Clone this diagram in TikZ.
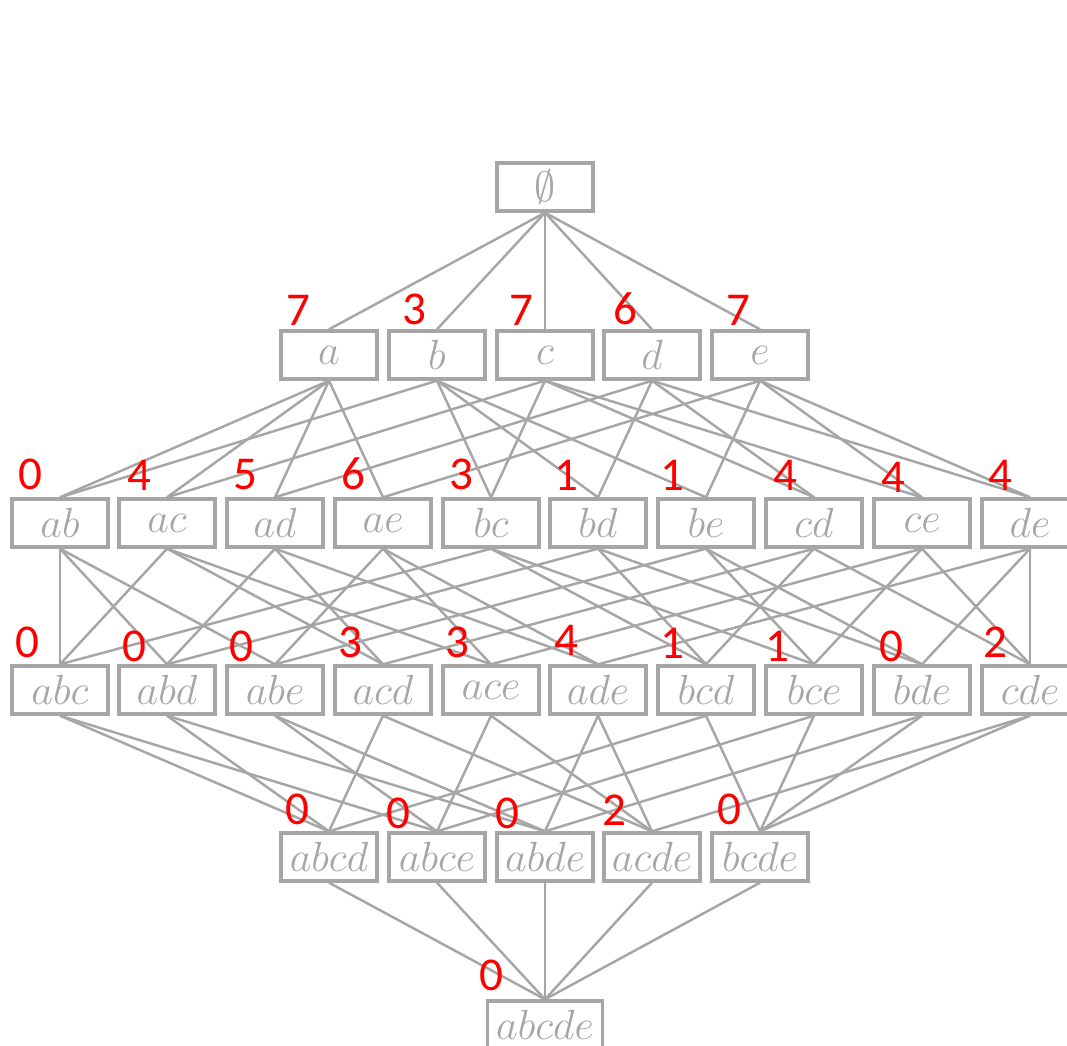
\documentclass[tikz,border=0pt]{standalone}
\usepackage{amsmath,amssymb}
\usepackage{fontspec}
\usepackage{xcolor}
\usepackage{tikz}
\newfontfamily\chiffre{Carlito}
\definecolor{gris}{RGB}{166,166,166}
\definecolor{rouge}{RGB}{255,0,0}

\begin{document}
\begin{tikzpicture}[x=0.01cm, y=-0.01cm,
  bx/.style={rectangle, draw=gris, line width=0.95pt, text=gris, minimum width=0.96cm,
             minimum height=0.48cm, inner sep=0pt, font=\fontsize{12.2}{14}\selectfont},
  ln/.style={draw=gris, line width=0.7pt},
  num/.style={anchor=south, inner sep=0pt, text=rouge, font=\chiffre\fontsize{13.4}{15}\selectfont}]

\useasboundingbox (0,0) rectangle (1067,1046);
\clip (0,0) rectangle (1067,1046);

% niveau 0 et 1
\node[bx] (vide) at (545,187) {$\emptyset$};
\node[bx] (a) at (329,355) {$a$};
\node[bx] (b) at (437,355) {$b$};
\node[bx] (c) at (545,355) {$c$};
\node[bx] (d) at (652,355) {$d$};
\node[bx] (e) at (760,355) {$e$};

% niveau 2
\node[bx] (ab) at (60,523) {$ab$};
\node[bx] (ac) at (167,523) {$ac$};
\node[bx] (ad) at (275,523) {$ad$};
\node[bx] (ae) at (383,523) {$ae$};
\node[bx] (bc) at (491,523) {$bc$};
\node[bx] (bd) at (598,523) {$bd$};
\node[bx] (be) at (706,523) {$be$};
\node[bx] (cd) at (814,523) {$cd$};
\node[bx] (ce) at (922,523) {$ce$};
\node[bx] (de) at (1030,523) {$de$};

% niveau 3
\node[bx] (abc) at (60,690) {$abc$};
\node[bx] (abd) at (167,690) {$abd$};
\node[bx] (abe) at (275,690) {$abe$};
\node[bx] (acd) at (383,690) {$acd$};
\node[bx] (ace) at (491,690) {$ace$};
\node[bx] (ade) at (598,690) {$ade$};
\node[bx] (bcd) at (706,690) {$bcd$};
\node[bx] (bce) at (814,690) {$bce$};
\node[bx] (bde) at (922,690) {$bde$};
\node[bx] (cde) at (1030,690) {$cde$};

% niveau 4 et 5
\node[bx] (abcd) at (329,857) {$abcd$};
\node[bx] (abce) at (437,857) {$abce$};
\node[bx] (abde) at (545,857) {$abde$};
\node[bx] (acde) at (652,857) {$acde$};
\node[bx] (bcde) at (760,857) {$bcde$};
\node[bx, minimum width=1.15cm] (abcde) at (545,1025) {$abcde$};

% inclusions
\foreach \u/\v in {vide/a, vide/b, vide/c, vide/d, vide/e,
  a/ab, a/ac, a/ad, a/ae, b/ab, b/bc, b/bd, b/be, c/ac, c/bc, c/cd, c/ce,
  d/ad, d/bd, d/cd, d/de, e/ae, e/be, e/ce, e/de,
  ab/abc, ab/abd, ab/abe, ac/abc, ac/acd, ac/ace, ad/abd, ad/acd, ad/ade,
  ae/abe, ae/ace, ae/ade, bc/abc, bc/bcd, bc/bce, bd/abd, bd/bcd, bd/bde,
  be/abe, be/bce, be/bde, cd/acd, cd/bcd, cd/cde, ce/ace, ce/bce, ce/cde,
  de/ade, de/bde, de/cde,
  abc/abcd, abc/abce, abd/abcd, abd/abde, abe/abce, abe/abde, acd/abcd, acd/acde,
  ace/abce, ace/acde, ade/abde, ade/acde, bcd/abcd, bcd/bcde, bce/abce, bce/bcde,
  bde/abde, bde/bcde, cde/acde, cde/bcde,
  abcd/abcde, abce/abcde, abde/abcde, acde/abcde, bcde/abcde}
  \draw[ln] (\u.south) -- (\v.north);

% comptes
\node[num] (n-a) at (298,326) {7};
\node[num] (n-b) at (414,326) {3};
\node[num] (n-c) at (521,326) {7};
\node[num] (n-d) at (625,326) {6};
\node[num] (n-e) at (738,326) {7};

\node[num] (n-ab) at (30,491) {0};
\node[num] (n-ac) at (139,491) {4};
\node[num] (n-ad) at (245,491) {5};
\node[num] (n-ae) at (353,491) {6};
\node[num] (n-bc) at (461,491) {3};
\node[num] (n-bd) at (566,491) {1};
\node[num] (n-be) at (672,491) {1};
\node[num] (n-cd) at (785,491) {4};
\node[num] (n-ce) at (893,493) {4};
\node[num] (n-de) at (1000,491) {4};

\node[num] (n-abc) at (27,659) {0};
\node[num] (n-abd) at (134,663) {0};
\node[num] (n-abe) at (241,663) {0};
\node[num] (n-acd) at (350,659) {3};
\node[num] (n-ace) at (457,659) {3};
\node[num] (n-ade) at (566,656) {4};
\node[num] (n-bcd) at (672,659) {1};
\node[num] (n-bce) at (777,662) {1};
\node[num] (n-bde) at (891,663) {0};
\node[num] (n-cde) at (995,658) {2};

\node[num] (n-abcd) at (297,826) {0};
\node[num] (n-abce) at (398,830) {0};
\node[num] (n-abde) at (507,830) {0};
\node[num] (n-acde) at (614,826) {2};
\node[num] (n-bcde) at (729,826) {0};
\node[num] (n-abcde) at (491,992) {0};

\end{tikzpicture}
\end{document}
